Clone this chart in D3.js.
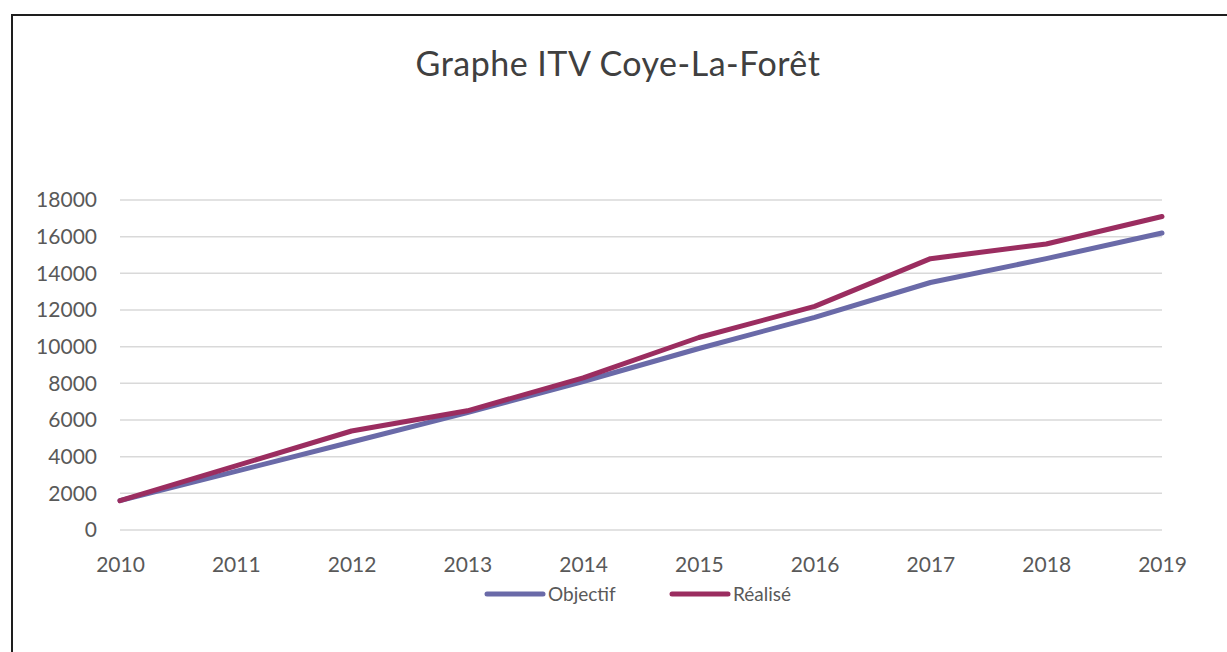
<!DOCTYPE html>
<html>
<head>
<meta charset="utf-8">
<script src="https://cdn.jsdelivr.net/npm/d3@7"></script>
<style>
  body { margin: 0; background: #fff; }
  svg { display: block; font-family: Lato, "Open Sans", sans-serif; }
</style>
</head>
<body>
<svg id="chart" width="1227" height="652"></svg>
<script>
// values
var years = [2010, 2011, 2012, 2013, 2014, 2015, 2016, 2017, 2018, 2019];
var objectif = [1600, 3200, 4800, 6400, 8100, 9900, 11600, 13500, 14800, 16200];
var realise = [1600, 3500, 5400, 6500, 8300, 10500, 12200, 14800, 15600, 17100];
var yTicks = [0, 2000, 4000, 6000, 8000, 10000, 12000, 14000, 16000, 18000];
var seriesNames = ["Objectif", "Réalisé"];
var seriesColors = ["#6a6aa8", "#9b2d60"];

var svg = d3.select("#chart");

// outer frame, only top and left edges are inside the picture
svg.append("rect")
	.attr("x", 12).attr("y", 15)
	.attr("width", 1300).attr("height", 700)
	.attr("fill", "none")
	.attr("stroke", "#1e1e1e")
	.attr("stroke-width", 2);

svg.append("text")
	.attr("x", 618).attr("y", 76)
	.attr("text-anchor", "middle")
	.attr("font-size", 34)
	.attr("letter-spacing", 0.5)
	.attr("fill", "#404040")
	.text("Graphe ITV Coye-La-Forêt");

var x = d3.scalePoint().domain(years).range([120, 1162]);
var y = d3.scaleLinear().domain([0, 18000]).range([530, 200]);

// gridlines
svg.append("g").selectAll("line")
	.data(yTicks)
	.enter().append("line")
	.attr("x1", 120).attr("x2", 1162)
	.attr("y1", function(d) { return y(d); })
	.attr("y2", function(d) { return y(d); })
	.attr("stroke", "#d9d9d9")
	.attr("stroke-width", 1.5);

var yAxis = svg.append("g")
	.attr("transform", "translate(120,0)")
	.call(d3.axisLeft(y).tickValues(yTicks).tickSize(0).tickPadding(23).tickFormat(d3.format("d")));
var xAxis = svg.append("g")
	.attr("transform", "translate(0,530)")
	.call(d3.axisBottom(x).tickSize(0).tickPadding(27).tickFormat(d3.format("d")));

[yAxis, xAxis].forEach(function(ax) {
	ax.select(".domain").remove();
	ax.selectAll("text")
		.attr("font-family", "Lato, 'Open Sans', sans-serif")
		.attr("font-size", 21)
		.attr("fill", "#595959");
});

var line = d3.line()
	.x(function(d, i) { return x(years[i]); })
	.y(function(d) { return y(d); });

[objectif, realise].forEach(function(vals, i) {
	svg.append("path")
		.datum(vals)
		.attr("d", line)
		.attr("fill", "none")
		.attr("stroke", seriesColors[i])
		.attr("stroke-width", 5)
		.attr("stroke-linejoin", "round")
		.attr("stroke-linecap", "round");
});

// legend
var legendX = [487, 672];
var legend = svg.append("g").selectAll("g")
	.data(seriesNames)
	.enter().append("g")
	.attr("transform", function(d, i) { return "translate(" + legendX[i] + ",594)"; });

legend.append("line")
	.attr("x1", 0).attr("x2", 56)
	.attr("stroke", function(d, i) { return seriesColors[i]; })
	.attr("stroke-width", 5)
	.attr("stroke-linecap", "round");

legend.append("text")
	.attr("x", 61).attr("dy", "0.35em")
	.attr("font-size", 19)
	.attr("fill", "#595959")
	.text(function(d) { return d; });
</script>
</body>
</html>
